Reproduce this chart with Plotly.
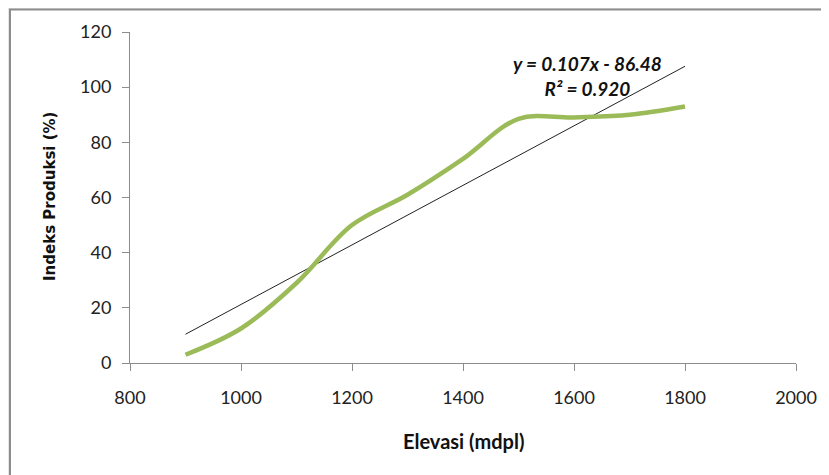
import numpy as np
import plotly.graph_objects as go

elevasi = [900, 1000, 1100, 1200, 1300, 1400, 1500, 1600, 1700, 1800]
indeks = [3, 12.5, 29, 50, 61, 74, 88.5, 89, 90, 93]
x_ticks = [800, 1000, 1200, 1400, 1600, 1800, 2000]
y_ticks = [0, 20, 40, 60, 80, 100, 120]
eq_label = "y = 0.107x - 86.48<br>R² = 0.920"

slope, intercept = np.polyfit(elevasi, indeks, 1)
trend_x = [min(elevasi), max(elevasi)]
trend_y = [slope * v + intercept for v in trend_x]

fig = go.Figure()
fig.add_trace(go.Scatter(x=trend_x, y=trend_y, mode="lines",
                         line=dict(color="#222222", width=1), showlegend=False))
fig.add_trace(go.Scatter(x=elevasi, y=indeks, mode="lines",
                         line=dict(color="#9bbb59", width=4.5, shape="spline", smoothing=1.0),
                         showlegend=False))

# page body has an 8px default margin; compensate so the plot area sits at 130..796 x 32..363
PW, PH = 666, 331
tickfont = dict(family="Lato, Liberation Sans, sans-serif", size=18, color="#222222")
fig.update_layout(
    width=821, height=467,
    margin=dict(l=122, r=33, t=24, b=112),
    paper_bgcolor="#e6e6e6",
    plot_bgcolor="white",
    xaxis=dict(range=[800, 2000], tickvals=x_ticks, showgrid=False, zeroline=False,
               showline=True, linecolor="#8c8c8c", linewidth=1,
               ticks="outside", ticklen=7, tickcolor="#8c8c8c",
               tickfont=tickfont, ticklabelstandoff=11),
    yaxis=dict(range=[0, 120], tickvals=y_ticks, showgrid=False, zeroline=False,
               showline=True, linecolor="#8c8c8c", linewidth=1,
               ticks="outside", ticklen=7, tickcolor="#8c8c8c",
               tickfont=tickfont, ticklabelstandoff=7),
    shapes=[dict(type="rect", xref="paper", yref="paper", layer="below",
                 x0=-120 / PW, x1=1 + 60 / PW, y0=-140 / PH, y1=(363 - 9.5) / PH,
                 line=dict(color="#8c8c8c", width=2), fillcolor="white")],
    annotations=[
        dict(x=1625, y=104.2, xref="x", yref="y", text="<b><i>" + eq_label + "</i></b>",
             showarrow=False, align="center", xanchor="center", yanchor="middle",
             font=dict(family="Lato, Liberation Sans, sans-serif", size=19, color="#111111")),
        dict(x=(463 - 130) / PW, y=-(441 - 363) / PH, xref="paper", yref="paper",
             text="<b>Elevasi (mdpl)</b>", showarrow=False,
             xanchor="center", yanchor="middle",
             font=dict(family="Lato, Liberation Sans, sans-serif", size=20, color="#111111")),
        dict(x=-(130 - 50) / PW, y=(363 - 197) / PH, xref="paper", yref="paper",
             text="<b>Indeks Produksi (%)</b>", showarrow=False, textangle=-90,
             xanchor="center", yanchor="middle",
             font=dict(family="DejaVu Sans, sans-serif", size=15, color="#111111")),
    ],
)
fig.write_html("out.html")
